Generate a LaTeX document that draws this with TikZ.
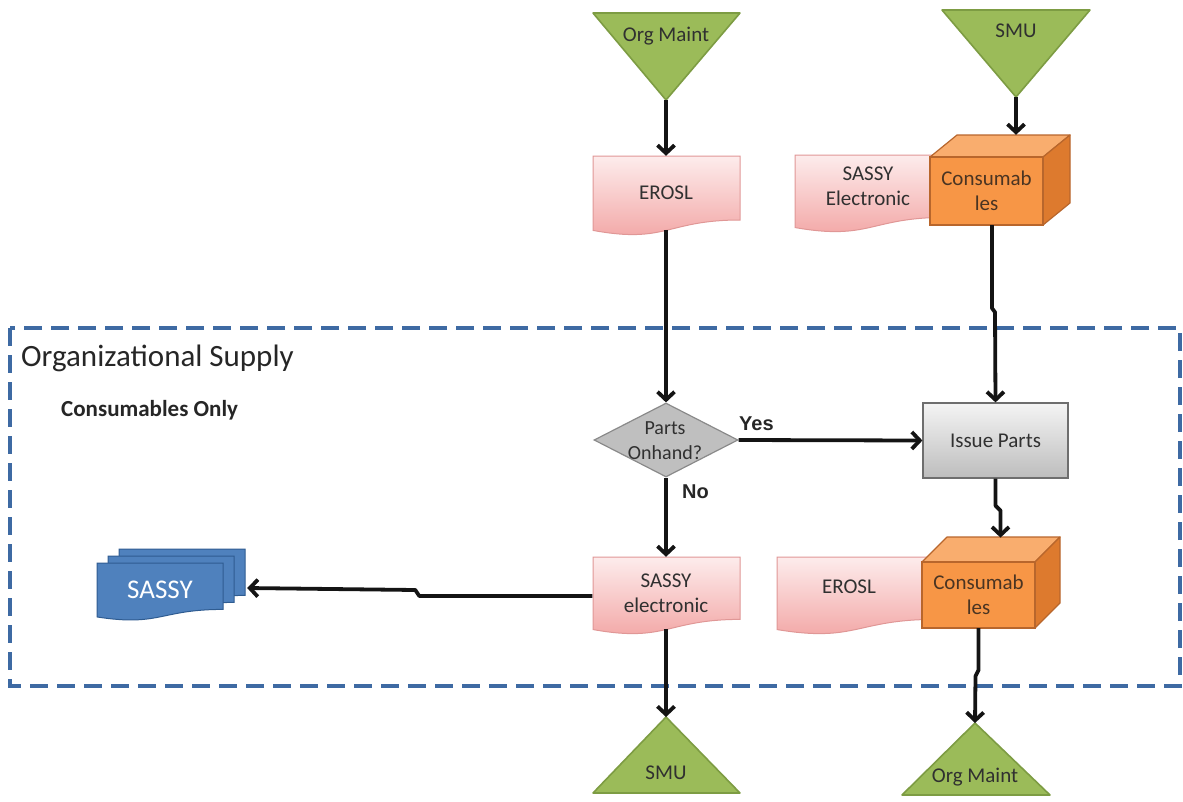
\documentclass[tikz,border=0pt]{standalone}
\usepackage{fontspec}
\setmainfont{Carlito}
\newfontfamily\arialfont{Liberation Sans}
\usetikzlibrary{arrows.meta,shapes.geometric,calc}
\definecolor{triF}{HTML}{9BBB59}
\definecolor{triD}{HTML}{7D9C43}
\definecolor{docT}{HTML}{FDECEC}
\definecolor{docB}{HTML}{F2A3A2}
\definecolor{docD}{HTML}{E09796}
\definecolor{cubeF}{HTML}{F79646}
\definecolor{cubeT}{HTML}{F9AD6E}
\definecolor{cubeS}{HTML}{DD7A2E}
\definecolor{cubeD}{HTML}{B8662C}
\definecolor{issT}{HTML}{F4F4F4}
\definecolor{issB}{HTML}{BDBDBD}
\definecolor{issD}{HTML}{6E6E6E}
\definecolor{diaF}{HTML}{BFBFBF}
\definecolor{diaD}{HTML}{8A8A8A}
\definecolor{sasF}{HTML}{4F81BD}
\definecolor{sasD}{HTML}{2F5C91}
\definecolor{frameC}{HTML}{3E6AA3}
\definecolor{txt}{HTML}{303030}
\definecolor{cubetxt}{HTML}{4A3422}
\newcommand{\docshape}[5]{%
  \path[#1] (#2,#3) -- (#4,#3) -- (#4,{#3+0.8*#5})
    .. controls ({(#2+#4)/2},{#3+0.8*#5}) and ({(#2+#4)/2},{#3+1.1*#5}) ..
    (#2,{#3+0.93*#5}) -- cycle;}
\newcommand{\cubeshape}[6]{%
  \path[cubetop] (#1,#2) -- ({#1+#5},{#2+#6}) -- ({#3+#5},{#2+#6}) -- (#3,#2) -- cycle;
  \path[cubeside] (#3,#2) -- ({#3+#5},{#2+#6}) -- ({#3+#5},{#4+#6}) -- (#3,#4) -- cycle;
  \path[cubefront] (#1,#2) rectangle (#3,#4);}
\begin{document}
\begin{tikzpicture}[x=1pt,y=-1pt,
  tri/.style={fill=triF, draw=triD, line width=1.6pt, line join=round},
  doc/.style={top color=docT, bottom color=docB, draw=docD, line width=1pt},
  cubetop/.style={fill=cubeT, draw=cubeD, line width=1.2pt, line join=round},
  cubeside/.style={fill=cubeS, draw=cubeD, line width=1.2pt, line join=round},
  cubefront/.style={fill=cubeF, draw=cubeD, line width=1.2pt},
  sasdoc/.style={fill=sasF, draw=sasD, line width=1pt},
  lbl/.style={font=\fontsize{21}{25}\selectfont, text=txt, align=center, inner sep=0pt},
  cubelbl/.style={lbl, text=cubetxt},
  yn/.style={font=\arialfont\bfseries\fontsize{20}{22}\selectfont, text=black!85, inner sep=0pt},
  conn/.style={line width=3.8pt, draw=black!92, line join=round,
    -{Straight Barb[length=8pt,width=17pt]}},
  frame/.style={draw=frameC, line width=3.8pt, dash pattern=on 18pt off 9pt}
]
\useasboundingbox (0,0) rectangle (1183,801);

% organizational supply frame
\draw[frame] (10,328) rectangle (1180,686);
\node[anchor=base west, font=\fontsize{31}{33}\selectfont, text=black!85, inner sep=0pt] (orgsup) at (21,366) {Organizational Supply};
\node[anchor=base west, font=\bfseries\fontsize{23}{25}\selectfont, text=black!85, inner sep=0pt] (consonly) at (61,416) {Consumables Only};

% top triangles
\path[tri] (593,13) -- (740,13) -- (666,100) -- cycle;
\node[lbl] (om1) at (666,36) {Org Maint};
\coordinate (om1tip) at (666,100);
\path[tri] (942,10) -- (1090,10) -- (1016,97) -- cycle;
\node[lbl] (smu1) at (1016,31) {SMU};
\coordinate (smu1tip) at (1016,97);

% EROSL top
\docshape{doc}{593}{156}{740}{80}
\node[lbl, minimum width=147pt, minimum height=74pt] (erosl1) at (666,193) {EROSL};

% SASSY Electronic + cube
\docshape{doc}{795}{155}{945}{78}
\node[lbl] (sassyE) at (868,186) {SASSY\\Electronic};
\cubeshape{930}{157}{1043}{225}{27}{-22}
\node[cubelbl, minimum width=113pt, minimum height=68pt] (c1) at (986.5,191) {Consumab\\les};

% decision
\node[diamond, fill=diaF, draw=diaD, line width=1.2pt, minimum width=144pt, minimum height=74pt,
  aspect=1.95, inner sep=0pt] (diam) at (666,440) {};
\node[lbl, font=\fontsize{20}{25}\selectfont] (diamtxt) at (665,441) {Parts\\Onhand?};

% issue parts
\node[draw=issD, line width=1.2pt, top color=issT, bottom color=issB, minimum width=145pt,
  minimum height=75pt, font=\fontsize{21}{25}\selectfont, text=txt] (issue) at (995.5,440.5) {Issue Parts};

% lower docs
\docshape{doc}{593}{557}{740}{78}
\node[lbl, minimum width=147pt, minimum height=72pt] (sassyel) at (666,593) {SASSY\\electronic};
\docshape{doc}{777}{557}{935}{78}
\node[lbl] (erosl2) at (849,587) {EROSL};
\cubeshape{922}{562}{1035}{628}{25}{-25}
\node[cubelbl, minimum width=113pt, minimum height=66pt] (c2) at (978.5,595) {Consumab\\les};

% SASSY multi document
\docshape{sasdoc}{119}{549}{245}{58}
\docshape{sasdoc}{108}{556}{234}{58}
\docshape{sasdoc}{97}{563}{223}{58}
\node[font=\fontsize{27}{29}\selectfont, text=white, inner sep=0pt, minimum width=126pt, minimum height=54pt] (sassy) at (160,590) {SASSY};

% bottom triangles
\path[tri] (593,793) -- (740,793) -- (666,717) -- cycle;
\node[lbl] (smu2) at (666,773) {SMU};
\coordinate (smu2tip) at (666,717);
\path[tri] (902,795) -- (1050,795) -- (975,723) -- cycle;
\node[lbl] (om2) at (975,777) {Org Maint};
\coordinate (om2tip) at (975,723);

% labels
\node[yn, anchor=base west] (yes) at (739,430) {Yes};
\node[yn, anchor=base west] (no) at (682,498) {No};

% connectors
\draw[conn] (om1tip) -- (erosl1.north);
\draw[conn] (erosl1.south) -- (diam.north);
\draw[conn] (smu1tip) -- ([yshift=22pt]smu1tip |- c1.north);
\draw[conn] ([xshift=5.5pt]c1.south) -- ++(0,83) -- ++(3,4) -- (issue.north);
\draw[conn] (diam.east) -- (issue.west);
\draw[conn] (diam.south) -- (sassyel.north);
\draw[conn] (issue.south) -- ++(0,27) -- ++(5,5) -- ++(0,27);
\draw[conn] ([yshift=-3pt]sassyel.west) -- ++(-173,0) -- ++(-4,-6) -- ([xshift=24pt,yshift=2pt]sassy.east);
\draw[conn] (sassyel.south) -- (smu2tip);
\draw[conn] (c2.south) -- ++(0,42) -- ++(-3,6) -- (om2tip);
\end{tikzpicture}
\end{document}
